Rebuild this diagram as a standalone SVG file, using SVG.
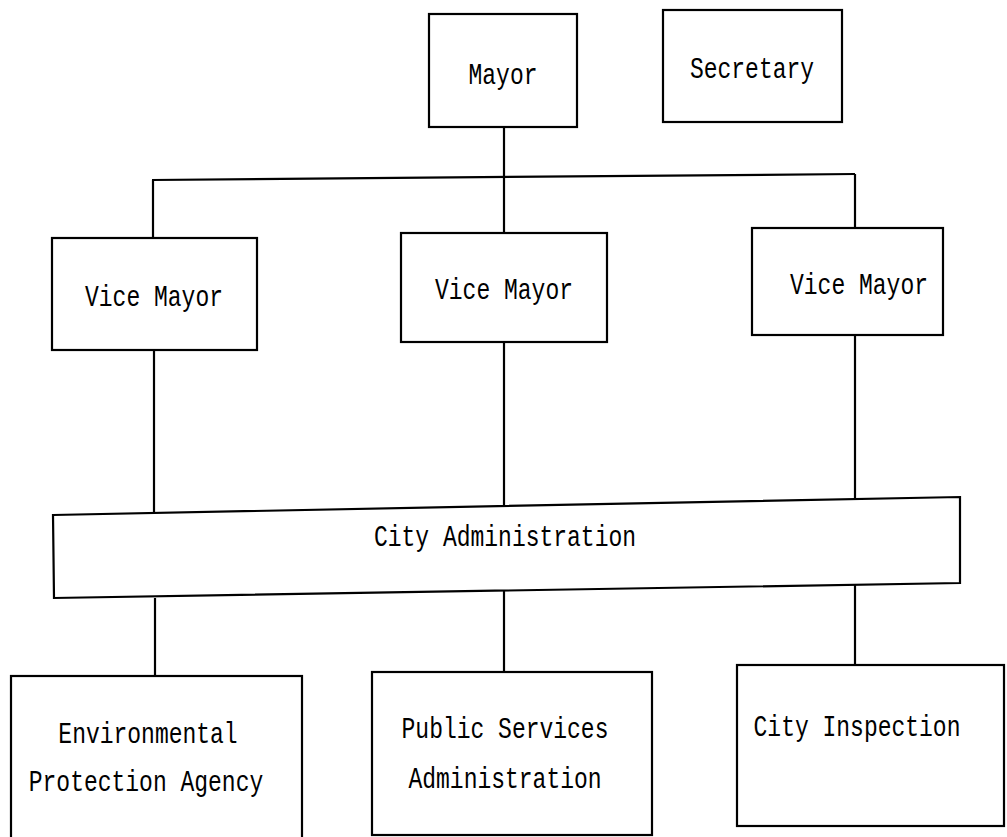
<svg xmlns="http://www.w3.org/2000/svg" width="1007" height="837" viewBox="0 0 1007 837">
<style>
.box{fill:#fff;stroke:#000;stroke-width:2.2}
.ln{stroke:#000;stroke-width:2.2;fill:none}
.t{font-family:"Liberation Mono","DejaVu Sans Mono",monospace;font-size:23px;fill:#000;text-anchor:middle}
</style>
<rect width="1007" height="837" fill="#fff"/>
<g id="connectors">
<path class="ln" d="M504 126 V233"/>
<path class="ln" d="M152 180 L855 174"/>
<path class="ln" d="M153 180 V238"/>
<path class="ln" d="M855 174 V228"/>
<path class="ln" d="M154 350 V514"/>
<path class="ln" d="M504 342 V506"/>
<path class="ln" d="M855 335 V498"/>
<path class="ln" d="M155 598 V676"/>
<path class="ln" d="M504 591 V672"/>
<path class="ln" d="M855 583 V665"/>
</g>
<g id="mayor">
<rect class="box" x="429" y="14" width="148" height="113"/>
<text class="t" transform="translate(503,84) scale(1,1.3)">Mayor</text>
</g>
<g id="secretary">
<rect class="box" x="663" y="10" width="179" height="112"/>
<text class="t" transform="translate(752,78) scale(1,1.3)">Secretary</text>
</g>
<g id="vice-mayor-1">
<rect class="box" x="52" y="238" width="205" height="112"/>
<text class="t" transform="translate(154,306) scale(1,1.3)">Vice Mayor</text>
</g>
<g id="vice-mayor-2">
<rect class="box" x="401" y="233" width="206" height="109"/>
<text class="t" transform="translate(504,299) scale(1,1.3)">Vice Mayor</text>
</g>
<g id="vice-mayor-3">
<rect class="box" x="752" y="228" width="191" height="107"/>
<text class="t" transform="translate(859,294) scale(1,1.3)">Vice Mayor</text>
</g>
<g id="city-administration">
<polygon class="box" points="53,515 960,497 960,583 54,598"/>
<text class="t" transform="translate(505,546) scale(1,1.3)">City Administration</text>
</g>
<g id="environmental-protection-agency">
<rect class="box" x="11" y="676" width="291" height="170"/>
<text class="t" transform="translate(148,743) scale(1,1.3)">Environmental</text>
<text class="t" transform="translate(146,791) scale(1,1.3)">Protection Agency</text>
</g>
<g id="public-services-administration">
<rect class="box" x="372" y="672" width="280" height="163"/>
<text class="t" transform="translate(505,738) scale(1,1.3)">Public Services</text>
<text class="t" transform="translate(505,788) scale(1,1.3)">Administration</text>
</g>
<g id="city-inspection">
<rect class="box" x="737" y="665" width="267" height="161"/>
<text class="t" transform="translate(857,736) scale(1,1.3)">City Inspection</text>
</g>
</svg>
